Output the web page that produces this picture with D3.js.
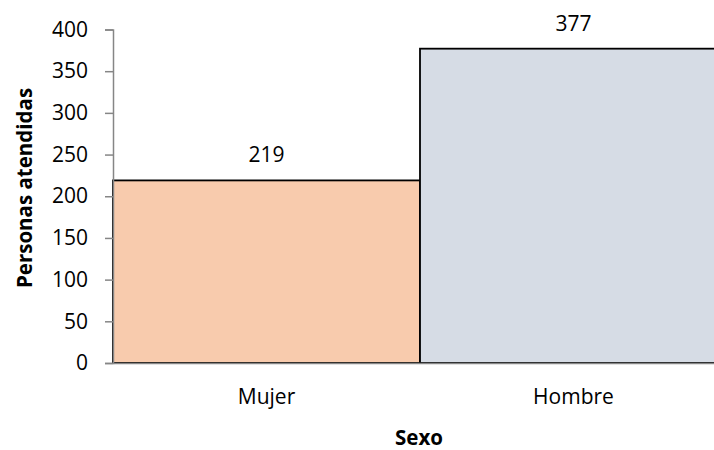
<!DOCTYPE html>
<html>
<head>
<meta charset="utf-8">
<script src="https://cdn.jsdelivr.net/npm/d3@7"></script>
<style>
  body { margin: 0; background: #fff; }
  text { font-family: "Open Sans", "Noto Sans", sans-serif; fill: #000; }
</style>
</head>
<body>
<script>
var categories = ["Mujer", "Hombre"];
var values = [219, 377];
var colors = ["#F8CBAD", "#D6DCE5"];
var yTicks = [0, 50, 100, 150, 200, 250, 300, 350, 400];

var width = 714, height = 450;
var margin = { top: 29.5, left: 113, bottom: 87, right: -13 };
var innerW = width - margin.left - margin.right,
    innerH = height - margin.top - margin.bottom;
var font = "'Open Sans', 'Noto Sans', sans-serif";

var svg = d3.select("body").append("svg")
    .attr("width", width)
    .attr("height", height);

var g = svg.append("g")
    .attr("transform", "translate(" + margin.left + "," + margin.top + ")");

var x = d3.scaleBand().domain(categories).range([0, innerW]).padding(0);
var y = d3.scaleLinear().domain([0, 400]).range([innerH, 0]);

// bars
g.selectAll("rect.bar")
    .data(values)
    .enter().append("rect")
    .attr("class", "bar")
    .attr("x", function (d, i) { return x(categories[i]); })
    .attr("y", function (d) { return y(d); })
    .attr("width", x.bandwidth())
    .attr("height", function (d) { return innerH - y(d); })
    .attr("fill", function (d, i) { return colors[i]; })
    .attr("stroke", "#000")
    .attr("stroke-width", 1.8);

// data labels
g.selectAll("text.lbl")
    .data(values)
    .enter().append("text")
    .attr("class", "lbl")
    .attr("x", function (d, i) { return x(categories[i]) + x.bandwidth() / 2; })
    .attr("y", function (d) { return y(d) - 18; })
    .attr("text-anchor", "middle")
    .style("font-size", "21px")
    .text(function (d) { return d; });

// y axis
var yAxis = d3.axisLeft(y).tickValues(yTicks).tickSize(8).tickPadding(17);
var ya = g.append("g").call(yAxis);
ya.select(".domain").attr("stroke", "#868686").attr("stroke-width", 1.5);
ya.selectAll(".tick line").attr("stroke", "#868686").attr("stroke-width", 1.5);
ya.selectAll(".tick text").style("font-size", "21px").style("font-family", font).attr("fill", "#000");

// x axis
var xAxis = d3.axisBottom(x).tickSize(0).tickPadding(26);
var xa = g.append("g").attr("transform", "translate(0," + innerH + ")").call(xAxis);
xa.select(".domain").attr("stroke", "#868686").attr("stroke-width", 1.5);
xa.selectAll(".tick text").style("font-size", "21px").style("font-family", font).attr("fill", "#000");

// axis titles
svg.append("text")
    .attr("transform", "translate(32,188) rotate(-90)")
    .attr("text-anchor", "middle")
    .style("font-size", "20.5px")
    .style("font-weight", "bold")
    .text("Personas atendidas");

svg.append("text")
    .attr("x", 419)
    .attr("y", 445)
    .attr("text-anchor", "middle")
    .style("font-size", "20.5px")
    .style("font-weight", "bold")
    .text("Sexo");
</script>
</body>
</html>
